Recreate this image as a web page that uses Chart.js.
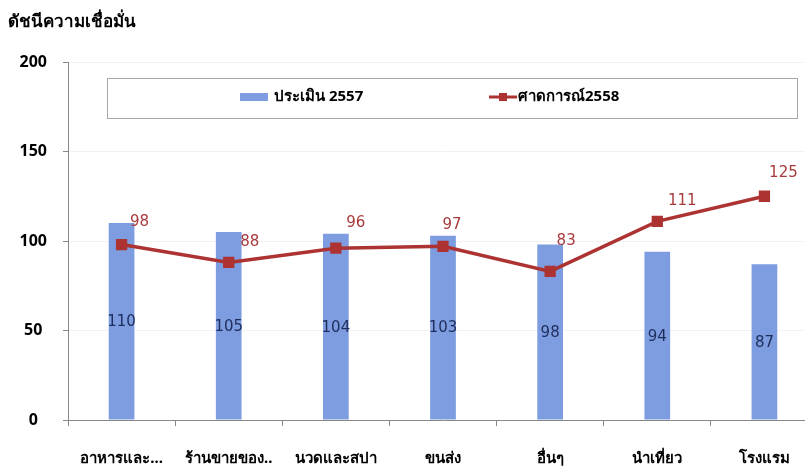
<!DOCTYPE html>
<html>
<head>
<meta charset="utf-8">
<script src="https://cdn.jsdelivr.net/npm/chart.js@4"></script>
<style>
  html, body { margin: 0; padding: 0; background: #fff; overflow: hidden; }
  #wrap { width: 827px; height: 474px; }
</style>
</head>
<body>
<div id="wrap"><canvas id="chart" width="827" height="474"></canvas></div>
<script>
// data
const categories = ["อาหารและ...", "ร้านขายของ..", "นวดและสปา", "ขนส่ง", "อื่นๆ", "นำเที่ยว", "โรงแรม"];
const assess2557 = [110, 105, 104, 103, 98, 94, 87];
const forecast2558 = [98, 88, 96, 97, 83, 111, 125];
const yTicks = [0, 50, 100, 150, 200];

const FONT = "'Noto Sans', 'DejaVu Sans', sans-serif";
const NUM_FONT = "'DejaVu Sans', sans-serif";
const barColor = "#7d9de0";
const lineColor = "#ad3333";

// offsets of the red labels from their points (dx, dy)
const lineLabelOffsets = [[18, -22], [21, -20], [20, -25], [9, -21], [16, -30], [25, -20], [19, -23]];

const extras = {
  id: "extras",
  afterDraw(chart) {
    const ctx = chart.ctx;
    ctx.save();
    // title
    ctx.fillStyle = "#000";
    ctx.font = "bold 17px " + FONT;
    ctx.textAlign = "left";
    ctx.textBaseline = "middle";
    ctx.fillText("ดัชนีความเชื่อมั่น", 8, 22);

    // legend box
    ctx.fillStyle = "#fff";
    ctx.fillRect(107, 78, 690, 40);
    ctx.strokeStyle = "#a8a8a8";
    ctx.lineWidth = 1;
    ctx.strokeRect(107.5, 78.5, 690, 40);
    ctx.fillStyle = barColor;
    ctx.fillRect(240, 93, 28, 8);
    ctx.fillStyle = "#000";
    ctx.font = "bold 15px " + FONT;
    ctx.fillText("ประเมิน 2557", 274, 97);
    ctx.strokeStyle = lineColor;
    ctx.lineWidth = 3;
    ctx.beginPath();
    ctx.moveTo(489, 97);
    ctx.lineTo(517, 97);
    ctx.stroke();
    ctx.fillStyle = lineColor;
    ctx.fillRect(499, 93, 8, 8);
    ctx.fillStyle = "#000";
    ctx.fillText("ศาดการณ์2558", 518, 97);

    // bar value labels
    const barMeta = chart.getDatasetMeta(1);
    ctx.font = "15px " + NUM_FONT;
    ctx.fillStyle = "#1f2d5c";
    ctx.textAlign = "center";
    barMeta.data.forEach((bar, i) => {
      ctx.fillText(String(assess2557[i]), bar.x, (bar.y + bar.base) / 2 + 1);
    });

    // line value labels
    const lineMeta = chart.getDatasetMeta(0);
    ctx.fillStyle = "#a83a3c";
    lineMeta.data.forEach((pt, i) => {
      const o = lineLabelOffsets[i];
      ctx.fillText(String(forecast2558[i]), pt.x + o[0], pt.y + o[1]);
    });
    ctx.restore();
  }
};

const ctx = document.getElementById("chart").getContext("2d");
new Chart(ctx, {
  data: {
    labels: categories,
    datasets: [
      {
        type: "line",
        label: "ศาดการณ์2558",
        data: forecast2558,
        borderColor: lineColor,
        backgroundColor: lineColor,
        borderWidth: 3.5,
        pointStyle: "rect",
        pointRadius: 5.5,
        pointBackgroundColor: lineColor,
        pointBorderColor: lineColor,
        tension: 0,
        order: 0
      },
      {
        type: "bar",
        label: "ประเมิน 2557",
        data: assess2557,
        backgroundColor: barColor,
        barPercentage: 0.24,
        categoryPercentage: 1,
        order: 1
      }
    ]
  },
  options: {
    responsive: false,
    animation: false,
    layout: { padding: { top: 62, right: 0, left: 0, bottom: 0 } },
    plugins: {
      legend: { display: false },
      tooltip: { enabled: false }
    },
    scales: {
      x: {
        grid: { offset: true, drawOnChartArea: false, tickLength: 6, color: "#888" },
        border: { color: "#888" },
        ticks: {
          color: "#000",
          font: { family: FONT, size: 15, weight: "bold" },
          padding: 24,
          maxRotation: 0,
          autoSkip: false
        },
        afterFit(scale) { scale.height = 54; }
      },
      y: {
        min: 0,
        max: 200,
        afterBuildTicks(scale) { scale.ticks = yTicks.map(v => ({ value: v })); },
        grid: { color: "#f2f2f2", tickLength: 5, tickColor: "#888" },
        border: { color: "#888" },
        ticks: {
          color: "#000",
          font: { family: FONT, size: 16, weight: "bold" },
          padding: 16,
          crossAlign: "center"
        },
        afterFit(scale) { scale.width = 68; }
      }
    }
  },
  plugins: [extras]
});
</script>
</body>
</html>
